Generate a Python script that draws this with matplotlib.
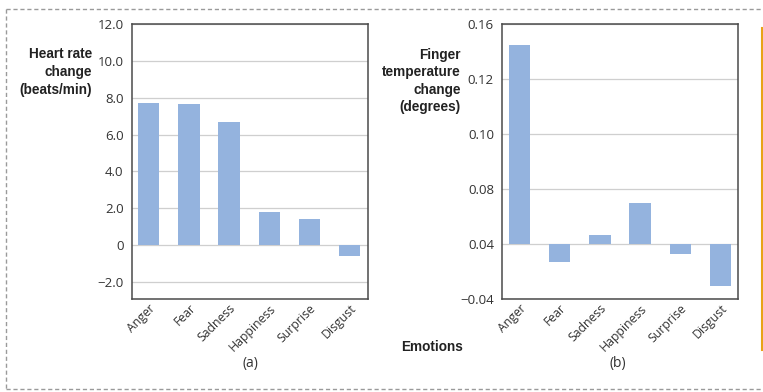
import matplotlib
matplotlib.use("Agg")
import matplotlib.pyplot as plt
from matplotlib.lines import Line2D

emotions = ["Anger", "Fear", "Sadness", "Happiness", "Surprise", "Disgust"]
heart_rate = [7.7, 7.65, 6.68, 1.81, 1.40, -0.58]
heart_ticks = [-2.0, 0.0, 2.0, 4.0, 6.0, 8.0, 10.0, 12.0]
heart_ticklabels = ["\u22122.0", "0", "2.0", "4.0", "6.0", "8.0", "10.0", "12.0"]

finger_temp = [0.1447, -0.0129, 0.0063, 0.0298, -0.0073, -0.0305]
finger_ticks = [-0.04, 0.0, 0.04, 0.08, 0.12, 0.16]
finger_ticklabels = ["\u22120.04", "0.04", "0.08", "0.10", "0.12", "0.16"]

BAR = "#94b3de"
GRID = "#cfcfcf"
SPINE = "#4a4a4a"
TXT = "#333333"
tick_font = ["Open Sans", "DejaVu Sans"]
bold_font = ["Liberation Sans Narrow", "Liberation Sans", "DejaVu Sans"]

fig = plt.figure(figsize=(7.63, 3.92), dpi=100)

def setup(ax, vals, ticks, labels, ylim, xlim):
    x = list(range(len(emotions)))
    ax.bar(x, vals, width=0.53, color=BAR, zorder=3)
    ax.set_xlim(*xlim)
    ax.set_ylim(*ylim)
    ax.set_yticks(ticks)
    ax.set_yticklabels(labels, fontfamily=tick_font, fontsize=9.5, color=TXT)
    ax.set_xticks(x)
    ax.set_xticklabels(emotions, rotation=45, ha="right", rotation_mode="anchor",
                       fontfamily=tick_font, fontsize=8.8, color=TXT)
    ax.tick_params(axis="both", length=0)
    ax.tick_params(axis="y", pad=6)
    ax.tick_params(axis="x", pad=2)
    ax.grid(axis="y", color=GRID, linewidth=0.9, zorder=0)
    for s in ax.spines.values():
        s.set_color(SPINE)
        s.set_linewidth(1.1)

ax1 = fig.add_axes([0.173, 0.2372, 0.3093, 0.7015])
setup(ax1, heart_rate, heart_ticks, heart_ticklabels, (-2.93, 12.0), (-0.42, 5.46))

ax2 = fig.add_axes([0.6583, 0.2372, 0.3085, 0.7015])
setup(ax2, finger_temp, finger_ticks, finger_ticklabels, (-0.04, 0.16), (-0.43, 5.43))

fig.text(92 / 763, 1 - 47 / 392, "Heart rate\nchange\n(beats/min)", ha="right", va="top",
         fontfamily=bold_font, fontweight="bold", fontsize=9.8, color="#222222",
         linespacing=1.38)
fig.text(461 / 763, 1 - 48 / 392, "Finger\ntemperature\nchange\n(degrees)", ha="right", va="top",
         fontfamily=bold_font, fontweight="bold", fontsize=9.8, color="#222222",
         linespacing=1.3)
fig.text(401 / 763, 1 - 347 / 392, "Emotions", ha="left", va="center",
         fontfamily=bold_font, fontweight="bold", fontsize=9.8, color="#222222")
fig.text(250 / 763, 1 - 364 / 392, "(a)", ha="center", va="center",
         fontfamily=tick_font, fontsize=10, color=TXT)
fig.text(618 / 763, 1 - 364 / 392, "(b)", ha="center", va="center",
         fontfamily=tick_font, fontsize=10, color=TXT)

# dashed frame
dash = dict(color="#9a9a9a", linewidth=1.0, linestyle=(0, (3, 2)), transform=fig.transFigure)
fig.add_artist(Line2D([6 / 763, 1.0], [1 - 9 / 392, 1 - 9 / 392], **dash))
fig.add_artist(Line2D([6 / 763, 1.0], [1 - 389 / 392, 1 - 389 / 392], **dash))
fig.add_artist(Line2D([6 / 763, 6 / 763], [1 - 9 / 392, 1 - 389 / 392], **dash))
# orange side rule
fig.add_artist(Line2D([761.5 / 763, 761.5 / 763], [1 - 28 / 392, 1 - 350 / 392],
                      color="#e8a317", linewidth=1.5, transform=fig.transFigure))

fig.savefig("out.png", dpi=100)
